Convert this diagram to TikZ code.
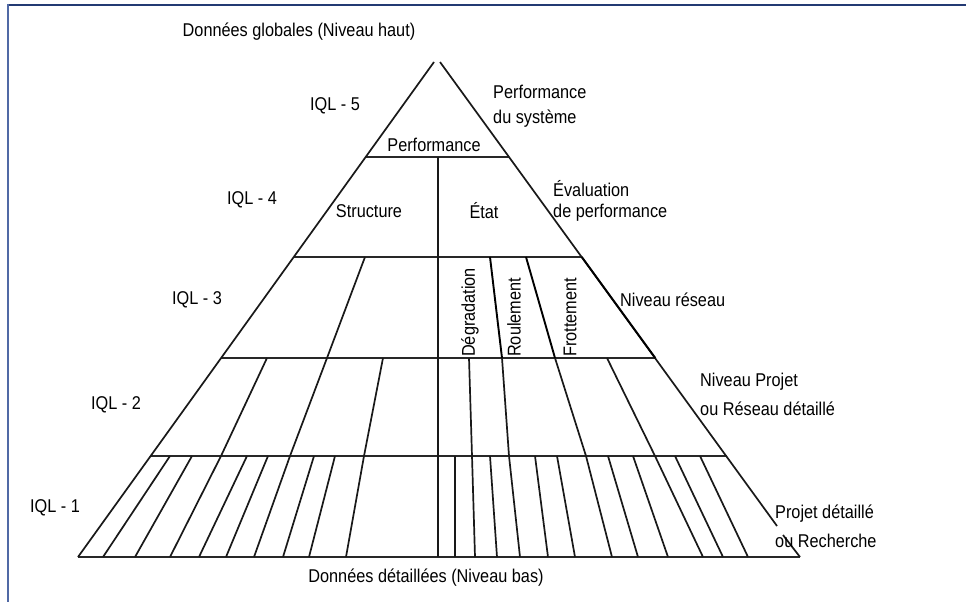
\documentclass[tikz,border=0pt]{standalone}
\usepackage{fontspec}
\setmainfont{Liberation Sans}[FakeStretch=0.88]
\begin{document}
\begin{tikzpicture}[x=1pt,y=-1pt,
  lab/.style={font=\fontsize{18.5}{22}\selectfont, inner sep=0pt},
  ln/.style={line width=1.7pt, draw={rgb,255:red,25;green,25;blue,25}},
  hln/.style={line width=2.3pt, draw={rgb,255:red,40;green,40;blue,40}},
  frameL/.style={line width=1.5pt, draw={rgb,255:red,80;green,105;blue,165}},
  frameT/.style={line width=2.6pt, draw={rgb,255:red,35;green,58;blue,115}}]
\useasboundingbox (0,0) rectangle (966,602);
\fill[white] (0,0) rectangle (966,602);
% frame
\draw[frameT] (7,5) -- (966,5);
\draw[frameL] (8,4) -- (8,602);
% edge points
\coordinate (L0) at (434,62);
\coordinate (L5) at (78,557);
\coordinate (R0) at (440,62);
\coordinate (R5) at (800,557);
\coordinate (Rg1) at (777,526);
\coordinate (Rg2) at (783,535);
% horizontal levels
\draw[hln] (365.7,157) -- (509.1,157);
\draw[hln] (293.8,257) -- (581.8,257);
\draw[hln] (221.1,358) -- (655.3,358);
\draw[hln] (150.6,456) -- (726.5,456);
\draw[hln] (L5) -- (R5);
% edges
\draw[ln] (L0) -- (L5);
\draw[ln] (R0) -- (Rg1);
\draw[ln] (Rg2) -- (R5);
\draw[line width=1.9pt, black] (581.8,257) -- (655.3,358);
% central vertical
\draw[ln] (438,157) -- (438,557);
% continuous left lines
\draw[ln] (365,257) -- (327,358) -- (290,456) -- (254,557);
\draw[ln] (267,358) -- (221,456) -- (170,557);
\draw[ln] (383,358) -- (364,456) -- (346,557);
% continuous right lines
\draw[line width=1.9pt, black] (490,257) -- (502,358);
\draw[ln] (502,358) -- (509,456) -- (520,557);
\draw[line width=1.9pt, black] (526,257) -- (555,358);
\draw[ln] (555,358) -- (586,456) -- (612,557);
\draw[ln] (469,358) -- (472,456) -- (475,557);
\draw[ln] (607,358) -- (655,456) -- (703,557);
% row 1 left lines
\draw[ln] (170,456) -- (103,557);
\draw[ln] (192,456) -- (135,557);
\draw[ln] (247,456) -- (199,557);
\draw[ln] (268,456) -- (226,557);
\draw[ln] (314,456) -- (283,557);
\draw[ln] (335,456) -- (309,557);
% row 1 right lines
\draw[ln] (455,456) -- (455,557);
\draw[ln] (490,456) -- (497,557);
\draw[ln] (535,456) -- (548,557);
\draw[ln] (557,456) -- (575,557);
\draw[ln] (608,456) -- (638,557);
\draw[ln] (633,456) -- (668,557);
\draw[ln] (675,456) -- (723,557);
\draw[ln] (700,456) -- (748,557);
% texts
\node[lab] (top) at (299,32) {Données globales (Niveau haut)};
\node[lab] (bot) at (426,578) {Données détaillées (Niveau bas)};
\node[lab] (q5) at (335,106) {IQL - 5};
\node[lab] (q4) at (252,200) {IQL - 4};
\node[lab] (q3) at (197,300) {IQL - 3};
\node[lab] (q2) at (116,405) {IQL - 2};
\node[lab] (q1) at (55,508) {IQL - 1};
\node[lab] (perf) at (434,145) {Performance};
\node[lab] (struc) at (369,211) {Structure};
\node[lab] (etat) at (484,211) {État};
\node[lab, anchor=west] (ps1) at (493,92) {Performance};
\node[lab, anchor=west] (ps2) at (493,119) {du système};
\node[lab, anchor=west] (ev1) at (553,189) {Évaluation};
\node[lab, anchor=west] (ev2) at (553,213) {de performance};
\node[lab, anchor=west] (nr) at (620,300) {Niveau réseau};
\node[lab, anchor=west] (np1) at (700,382) {Niveau Projet};
\node[lab, anchor=west] (np2) at (700,409) {ou Réseau détaillé};
\node[lab, anchor=west] (pd1) at (775,514) {Projet détaillé};
\node[lab, anchor=west] (pd2) at (775,541) {ou Recherche};
\node[lab, rotate=90, anchor=west] (deg) at (470,357) {Dégradation};
\node[lab, rotate=90, anchor=west] (rou) at (514,357) {Roulement};
\node[lab, rotate=90, anchor=west] (fro) at (570,357) {Frottement};
\end{tikzpicture}
\end{document}
